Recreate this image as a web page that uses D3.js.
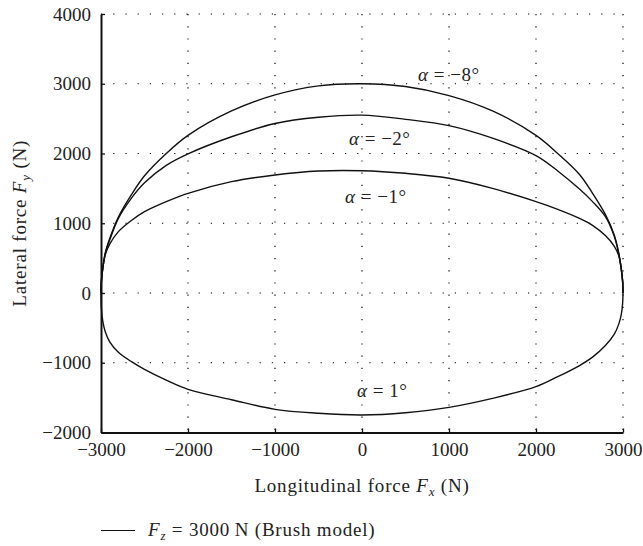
<!DOCTYPE html>
<html>
<head>
<meta charset="utf-8">
<script src="https://cdn.jsdelivr.net/npm/d3@7"></script>
<style>
    body { margin: 0; background: #fff; }
</style>
</head>
<body>
<svg id="chart" width="643" height="546"></svg>
<script>
// data (N)
var fx = [-3000, -2995, -2980, -2950, -2900, -2800, -2650, -2500, -2250, -2000, -1500, -1000, -500, 0,
    500, 1000, 1500, 2000, 2250, 2500, 2650, 2800, 2900, 2950, 2980, 2995, 3000];
var fyAlphaM8 = [0, 180, 350, 580, 780, 1090, 1410, 1680, 2000, 2260, 2610, 2840, 2970, 3000,
    2960, 2830, 2610, 2260, 2000, 1700, 1430, 1120, 830, 580, 350, 180, 0];
var fyAlphaM2 = [0, 180, 350, 570, 760, 1070, 1360, 1580, 1830, 1995, 2240, 2430, 2520, 2550,
    2490, 2400, 2220, 1970, 1750, 1490, 1310, 1090, 810, 570, 350, 175, 0];
var fyAlphaM1 = [0, 175, 350, 550, 700, 880, 1040, 1166, 1310, 1429, 1596, 1692, 1749, 1753,
    1716, 1645, 1500, 1310, 1200, 1070, 970, 820, 670, 540, 340, 175, 0];
var fyAlphaP1 = [0, -230, -400, -560, -700, -850, -985, -1095, -1250, -1381, -1530, -1668, -1725, -1749,
    -1716, -1639, -1510, -1343, -1200, -1040, -920, -750, -590, -450, -310, -160, 0];
var curveLabels = ["\u03b1 = \u22128\u00b0", "\u03b1 = \u22122\u00b0", "\u03b1 = \u22121\u00b0", "\u03b1 = 1\u00b0"];
var labelPos = [[644, 3045], [-150, 2122], [-195, 1290], [-57, -1490]];
var xTicks = [-3000, -2000, -1000, 0, 1000, 2000, 3000];
var yTicks = [-2000, -1000, 0, 1000, 2000, 3000, 4000];

var serif = "'Liberation Serif', 'Times New Roman', 'DejaVu Serif', serif";

var margin = { top: 14, right: 20, bottom: 113.5, left: 101 },
    width = 643 - margin.left - margin.right,
    height = 546 - margin.top - margin.bottom;

var x = d3.scaleLinear().domain([-3000, 3000]).range([0, width]);
var y = d3.scaleLinear().domain([-2000, 4000]).range([height, 0]);

var svg = d3.select("#chart").append("g")
    .attr("transform", "translate(" + margin.left + "," + margin.top + ")");

var fmt = function (d) { return d < 0 ? "\u2212" + Math.abs(d) : "" + d; };

// dotted grid
svg.append("g").selectAll("line").data(xTicks.slice(1)).enter().append("line")
    .attr("x1", function (d) { return x(d); }).attr("x2", function (d) { return x(d); })
    .attr("y1", 0).attr("y2", height)
    .attr("stroke", "#000").attr("stroke-width", 1.2).attr("stroke-dasharray", "1.2,11");
svg.append("g").selectAll("line").data(yTicks.slice(1)).enter().append("line")
    .attr("y1", function (d) { return y(d); }).attr("y2", function (d) { return y(d); })
    .attr("x1", 0).attr("x2", width)
    .attr("stroke", "#000").attr("stroke-width", 1.2).attr("stroke-dasharray", "1.2,11");

// axes, ticks pointing inward
var xAxis = svg.append("g")
    .attr("transform", "translate(0," + height + ")")
    .call(d3.axisBottom(x).tickValues(xTicks).tickFormat(fmt).tickSizeInner(-4).tickSizeOuter(0).tickPadding(10));
var yAxis = svg.append("g")
    .call(d3.axisLeft(y).tickValues(yTicks).tickFormat(fmt).tickSizeInner(-4).tickSizeOuter(0).tickPadding(10));
[xAxis, yAxis].forEach(function (a) {
    a.attr("font-family", null);
    a.select(".domain").attr("stroke", "#111").attr("stroke-width", 2);
    a.selectAll(".tick line").attr("stroke", "#111").attr("stroke-width", 1.3);
    a.selectAll(".tick text").style("font-size", "19px")
        .style("font-family", serif).attr("fill", "#222");
});

// curves
var line = d3.line()
    .x(function (d) { return x(d[0]); })
    .y(function (d) { return y(d[1]); })
    .curve(d3.curveCatmullRom.alpha(0.5));
[fyAlphaM8, fyAlphaM2, fyAlphaM1, fyAlphaP1].forEach(function (fy) {
    svg.append("path")
        .datum(fx.map(function (v, i) { return [v, fy[i]]; }))
        .attr("d", line)
        .attr("fill", "none")
        .attr("stroke", "#111")
        .attr("stroke-width", 1.4);
});

// curve labels
labelPos.forEach(function (p, i) {
    var parts = curveLabels[i].split(" ");
    var t = svg.append("text")
        .attr("x", x(p[0])).attr("y", y(p[1]))
        .style("font-family", serif).style("font-size", "19px").style("letter-spacing", "0.5px")
        .attr("fill", "#222");
    t.append("tspan").attr("font-style", "italic").text(parts[0]);
    t.append("tspan").text(" " + parts.slice(1).join(" "));
});

// axis titles
var xl = svg.append("text")
    .attr("x", width / 2).attr("y", height + 59)
    .attr("text-anchor", "middle").style("font-family", serif).style("font-size", "19px")
    .style("letter-spacing", "0.8px").attr("fill", "#222");
xl.append("tspan").text("Longitudinal force ");
xl.append("tspan").attr("font-style", "italic").text("F");
xl.append("tspan").attr("font-style", "italic").attr("font-size", "13px").attr("dy", 4).text("x");
xl.append("tspan").attr("dy", -4).text(" (N)");

var yl = svg.append("text")
    .attr("transform", "translate(" + (-75) + "," + (height / 2) + ") rotate(-90)")
    .attr("text-anchor", "middle").style("font-family", serif).style("font-size", "19px")
    .style("letter-spacing", "0.8px").attr("fill", "#222");
yl.append("tspan").text("Lateral force ");
yl.append("tspan").attr("font-style", "italic").text("F");
yl.append("tspan").attr("font-style", "italic").attr("font-size", "13px").attr("dy", 4).text("y");
yl.append("tspan").attr("dy", -4).text(" (N)");

// legend
var leg = svg.append("g").attr("transform", "translate(0," + (height + 98) + ")");
leg.append("line").attr("x1", 0).attr("x2", 34).attr("y1", 0).attr("y2", 0)
    .attr("stroke", "#111").attr("stroke-width", 1.2);
var lt = leg.append("text").attr("x", 47).attr("y", 5)
    .style("font-family", serif).style("font-size", "19px").style("letter-spacing", "0.8px")
    .attr("fill", "#222");
lt.append("tspan").attr("font-style", "italic").text("F");
lt.append("tspan").attr("font-style", "italic").attr("font-size", "13px").attr("dy", 4).text("z");
lt.append("tspan").attr("dy", -4).text(" = 3000\u2009N (Brush model)");
</script>
</body>
</html>
